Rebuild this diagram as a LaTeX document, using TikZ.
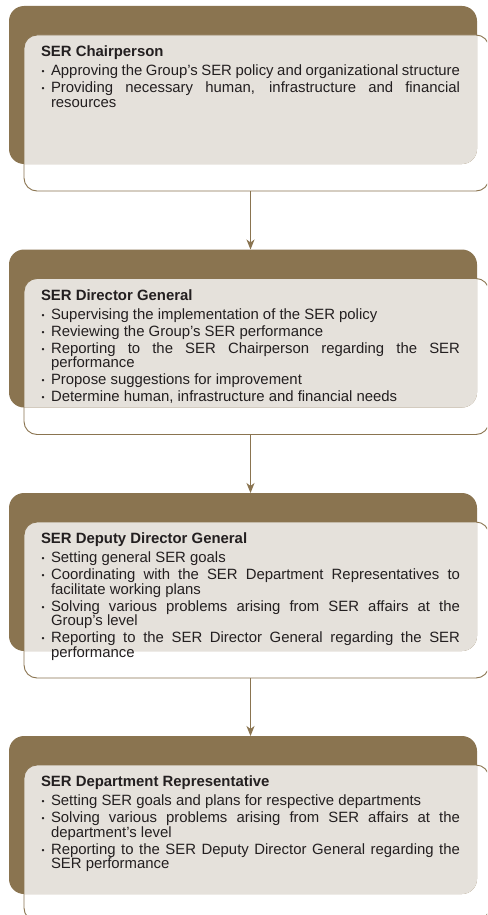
\documentclass[tikz,border=0pt]{standalone}
\usepackage{fontspec}
\setmainfont{Liberation Sans}
\usetikzlibrary{arrows.meta}

\definecolor{serbrown}{RGB}{138,116,80}
\definecolor{serlight}{RGB}{229,225,219}
\definecolor{sertext}{RGB}{35,31,32}

% small round bullet hanging in a 10pt box
\newcommand\dutydot{\makebox[10pt][l]{\hspace{0.6pt}\raisebox{1.2pt}{\fontsize{8.6}{8.6}\selectfont\char"2022}}}
% bold heading of a role, followed by its duties
\newcommand\roletitle[1]{\setlength{\parskip}{2.5pt}\lineskiplimit=-20pt\textbf{#1}\par\vspace{2pt}}
\newcommand\duty[1]{\hangindent=10pt\hangafter=1\noindent\dutydot#1\par}

\tikzset{
  brownbox/.style={anchor=north west, fill=serbrown, rounded corners=15pt,
    minimum width=468pt, minimum height=158pt, inner sep=0pt, outer sep=0pt},
  framebox/.style={anchor=north west, minimum width=465pt, minimum height=156pt,
    inner sep=0pt, outer sep=0pt},
  framestroke/.style={draw=serbrown, line width=0.9pt, rounded corners=13pt},
  rolefill/.style={fill=serlight, rounded corners=13pt},
  roletext/.style={anchor=base west, text width=419pt, align=justify,
    inner sep=0pt, outer sep=0pt, text=sertext,
    font=\fontsize{14.9}{14.5}\selectfont},
  flow/.style={draw=serbrown, line width=1.1pt,
    -{Stealth[length=10pt,width=8pt,inset=3pt]}},
}

% one role: brown tab, light panel, open frame and the text
\newcommand\stage[3]{%
  \node[brownbox] (b#1) at (9,#2) {};
  \node[framebox] (o#1) at (24,{#2+29}) {};
  \begin{scope}
    \clip[rounded corners=15pt] (b#1.north west) rectangle (b#1.south east);
    \fill[rolefill] (o#1.north west) rectangle (o#1.south east);
  \end{scope}
  \draw[framestroke] (o#1.north west) rectangle (o#1.south east);
  \node[roletext] (t#1) at (41,{#2+50.8}) {#3};
}

\begin{document}
\begin{tikzpicture}[x=1pt,y=-1pt]
\useasboundingbox (0,0) rectangle (487,915);
\fill[white] (0,0) rectangle (487,915);
\clip (0,0) rectangle (487,915);

\stage{1}{6}{%
  \roletitle{SER Chairperson}%
  \duty{Approving the Group’s SER policy and organizational structure}%
  \duty{Providing necessary human, infrastructure and financial\linebreak resources}}

\stage{2}{249.5}{%
  \roletitle{SER Director General}%
  \duty{Supervising the implementation of the SER policy}%
  \duty{Reviewing the Group’s SER performance}%
  \duty{Reporting to the SER Chairperson regarding the SER\linebreak performance}%
  \duty{Propose suggestions for improvement}%
  \duty{Determine human, infrastructure and financial needs}}

\stage{3}{493}{%
  \roletitle{SER Deputy Director General}%
  \duty{Setting general SER goals}%
  \duty{Coordinating with the SER Department Representatives to\linebreak facilitate working plans}%
  \duty{Solving various problems arising from SER affairs at the\linebreak Group’s level}%
  \duty{Reporting to the SER Director General regarding the SER\linebreak performance}}

\stage{4}{736}{%
  \roletitle{SER Department Representative}%
  \duty{Setting SER goals and plans for respective departments}%
  \duty{Solving various problems arising from SER affairs at the\linebreak department’s level}%
  \duty{Reporting to the SER Deputy Director General regarding the\linebreak SER performance}}

\draw[flow] (t1.north |- o1.south) -- (t1.north |- b2.north);
\draw[flow] (t2.north |- o2.south) -- (t2.north |- b3.north);
\draw[flow] (t3.north |- o3.south) -- (t3.north |- b4.north);
\end{tikzpicture}
\end{document}
